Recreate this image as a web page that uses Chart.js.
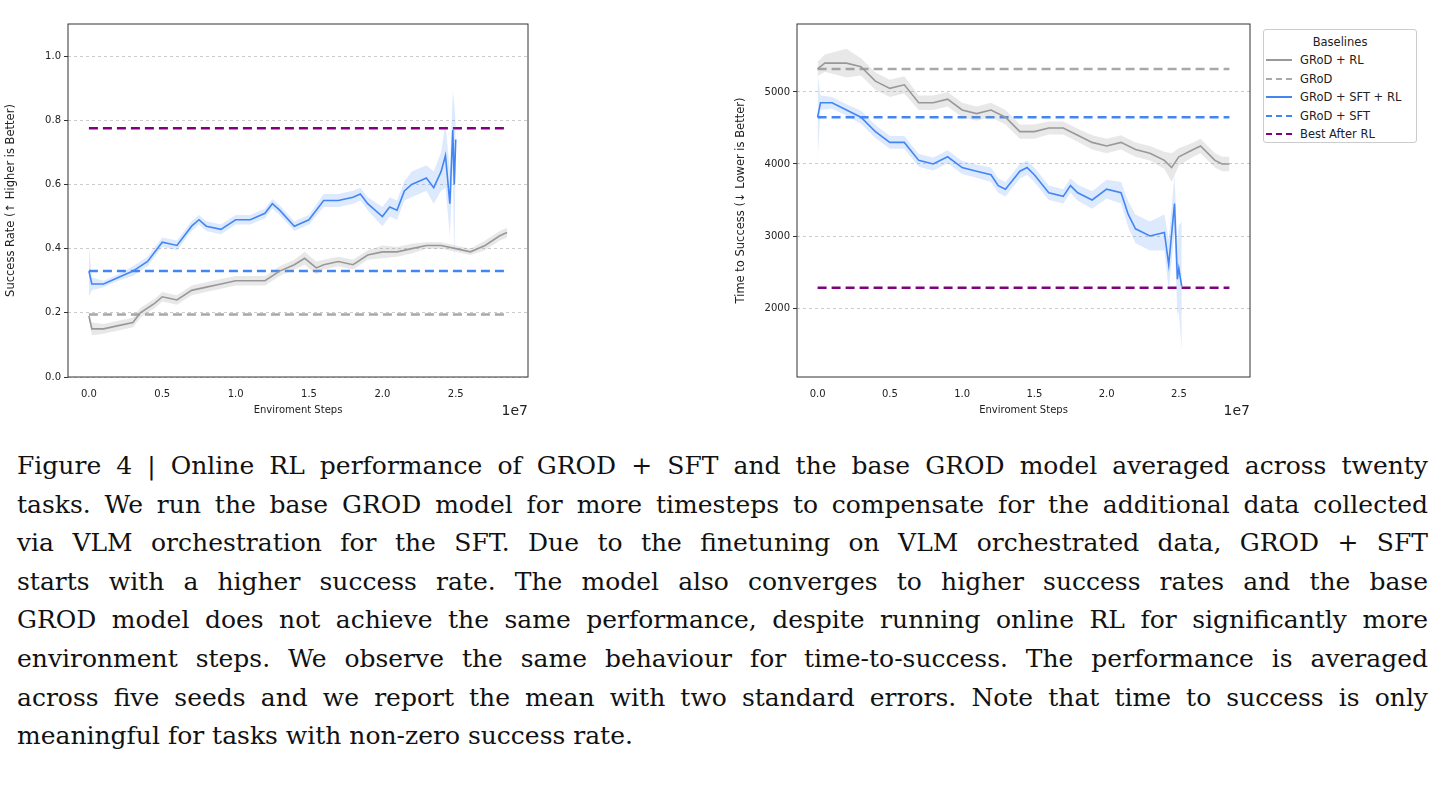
<!DOCTYPE html>
<html><head><meta charset="utf-8">
<script src="https://cdn.jsdelivr.net/npm/chart.js@4"></script>
<style>
body{margin:0;width:1445px;height:786px;background:#fff;position:relative;overflow:hidden}
.cv{position:absolute}
#legend{position:absolute;left:1263px;top:29px;width:154px;height:114px;border:1px solid #ccc;border-radius:3px;font:11.5px "DejaVu Sans";color:#222;box-sizing:border-box}
#legend .t{text-align:center;margin-top:5px;margin-bottom:2px}
#legend .r{height:18.5px;display:flex;align-items:center}
#legend .sw{width:26px;height:0;margin:0 8px 0 2px;border-top:2px solid}
#cap{position:absolute;left:17px;top:447px;width:1411px;font:25px "DejaVu Serif",serif;color:#111}
#cap div{height:38.6px;line-height:38.6px;text-align:justify;text-align-last:justify;white-space:nowrap}
#cap div.last{text-align-last:left}
</style></head><body>
<div class="cv" style="left:0;top:15px;width:540px;height:405px"><canvas id="c1"></canvas></div>
<div class="cv" style="left:730px;top:15px;width:530px;height:405px"><canvas id="c2"></canvas></div>
<div id="legend"><div class="t">Baselines</div>
<div class="r"><span class="sw" style="border-color:#999"></span>GRoD + RL</div>
<div class="r"><span class="sw" style="border-color:#aaa;border-top-style:dashed"></span>GRoD</div>
<div class="r"><span class="sw" style="border-color:#4286f4"></span>GRoD + SFT + RL</div>
<div class="r"><span class="sw" style="border-color:#4286f4;border-top-style:dashed"></span>GRoD + SFT</div>
<div class="r"><span class="sw" style="border-color:#800080;border-top-style:dashed"></span>Best After RL</div>
</div>
<div id="cap">
<div>Figure 4 | Online RL performance of GROD + SFT and the base GROD model averaged across twenty</div>
<div>tasks. We run the base GROD model for more timesteps to compensate for the additional data collected</div>
<div>via VLM orchestration for the SFT. Due to the finetuning on VLM orchestrated data, GROD + SFT</div>
<div>starts with a higher success rate. The model also converges to higher success rates and the base</div>
<div>GROD model does not achieve the same performance, despite running online RL for significantly more</div>
<div>environment steps. We observe the same behaviour for time-to-success. The performance is averaged</div>
<div>across five seeds and we report the mean with two standard errors. Note that time to success is only</div>
<div class="last">meaningful for tasks with non-zero success rate.</div>
</div>
<script>
// ---- data (x in units of 1e7 environment steps) ----
const srSftX = [0,0.02,0.1,0.2,0.3,0.4,0.5,0.6,0.7,0.75,0.8,0.9,1.0,1.1,1.2,1.25,1.3,1.4,1.5,1.6,1.7,1.8,1.85,1.9,2.0,2.05,2.1,2.15,2.2,2.3,2.35,2.4,2.43,2.46,2.48,2.49,2.5];
const srSftY = [0.33,0.29,0.29,0.31,0.33,0.36,0.42,0.41,0.47,0.49,0.47,0.46,0.49,0.49,0.51,0.54,0.52,0.47,0.49,0.55,0.55,0.56,0.57,0.54,0.50,0.53,0.52,0.58,0.60,0.62,0.59,0.64,0.69,0.54,0.77,0.60,0.74];
const srSftE = [0.08,0.02,0.01,0.01,0.015,0.015,0.015,0.015,0.015,0.015,0.015,0.015,0.015,0.015,0.015,0.015,0.015,0.015,0.015,0.02,0.02,0.02,0.02,0.02,0.03,0.03,0.03,0.03,0.04,0.04,0.05,0.06,0.1,0.1,0.12,0.25,0.05];
const srRlX = [0,0.02,0.1,0.2,0.3,0.35,0.45,0.5,0.6,0.7,0.8,0.9,1.0,1.1,1.2,1.3,1.4,1.47,1.55,1.6,1.7,1.8,1.9,2.0,2.1,2.2,2.3,2.4,2.5,2.6,2.7,2.8,2.85];
const srRlY = [0.19,0.15,0.15,0.16,0.17,0.20,0.23,0.25,0.24,0.27,0.28,0.29,0.30,0.30,0.30,0.33,0.35,0.37,0.34,0.35,0.36,0.35,0.38,0.39,0.39,0.40,0.41,0.41,0.40,0.39,0.41,0.44,0.45];
const srRlE = [0.01,0.02,0.015,0.015,0.015,0.015,0.015,0.015,0.015,0.015,0.015,0.015,0.015,0.015,0.015,0.015,0.015,0.02,0.02,0.015,0.015,0.015,0.015,0.02,0.015,0.015,0.01,0.01,0.01,0.01,0.015,0.015,0.015];
const srBase = {grod:0.195, sft:0.33, best:0.775};

const tsSftX = [0,0.02,0.1,0.2,0.3,0.4,0.5,0.6,0.7,0.8,0.9,1.0,1.1,1.2,1.25,1.3,1.4,1.45,1.5,1.6,1.7,1.75,1.8,1.9,2.0,2.1,2.15,2.2,2.3,2.4,2.43,2.47,2.49,2.5,2.52];
const tsSftY = [4650,4850,4850,4750,4650,4450,4300,4300,4050,4000,4100,3950,3900,3850,3700,3650,3900,3950,3850,3600,3550,3700,3600,3500,3650,3600,3300,3100,3000,3050,2600,3450,2400,2550,2300];
const tsSftE = [600,100,80,80,90,90,90,90,90,90,90,90,90,100,100,100,100,100,100,100,100,100,110,120,130,150,180,200,200,250,350,400,500,600,900];
const tsRlX = [0,0.05,0.2,0.3,0.4,0.5,0.6,0.7,0.8,0.9,1.0,1.1,1.2,1.3,1.4,1.5,1.6,1.7,1.8,1.9,2.0,2.1,2.2,2.3,2.4,2.45,2.5,2.6,2.65,2.75,2.8,2.85];
const tsRlY = [5320,5400,5400,5350,5150,5050,5100,4850,4850,4900,4750,4700,4750,4650,4450,4450,4500,4500,4400,4300,4250,4300,4200,4150,4050,3950,4100,4200,4250,4050,4000,4000];
const tsRlE = [100,120,200,120,120,120,120,100,100,100,100,100,100,100,100,100,90,90,90,100,100,100,100,100,120,200,120,100,100,100,100,100];
const tsBase = {grod:5320, sft:4650, best:2280};

const xTicks = [0,0.5,1.0,1.5,2.0,2.5];
const srTicks = [0,0.2,0.4,0.6,0.8,1.0];
const tsTicks = [2000,3000,4000,5000];

const BLUE='#4286f4', GRAY='#999999', GRAYD='#a8a8a8', PURPLE='#800080';
const pts=(xs,ys)=>xs.map((x,i)=>({x,y:ys[i]}));
const hline=(v,c)=>({data:[{x:0,y:v},{x:2.85,y:v}],borderColor:c,borderWidth:2.5,borderDash:[9,5],pointRadius:0,fill:false});
function sets(sx,sy,se,rx,ry,re,b){
  return [
    {data:pts(rx,ry.map((v,i)=>v+re[i])),borderWidth:0,pointRadius:0,fill:false},
    {data:pts(rx,ry.map((v,i)=>v-re[i])),borderWidth:0,pointRadius:0,fill:'-1',backgroundColor:'rgba(150,150,150,0.22)'},
    {data:pts(rx,ry),borderColor:GRAY,borderWidth:1.6,pointRadius:0,fill:false},
    hline(b.grod,GRAYD),
    {data:pts(sx,sy.map((v,i)=>v+se[i])),borderWidth:0,pointRadius:0,fill:false},
    {data:pts(sx,sy.map((v,i)=>v-se[i])),borderWidth:0,pointRadius:0,fill:'-1',backgroundColor:'rgba(66,134,244,0.18)'},
    {data:pts(sx,sy),borderColor:BLUE,borderWidth:1.6,pointRadius:0,fill:false},
    hline(b.sft,BLUE),
    hline(b.best,PURPLE)
  ];
}
const frame={id:'frame',afterDraw(c){const a=c.chartArea,x=c.ctx;x.save();x.strokeStyle='#333';x.lineWidth=1;x.strokeRect(a.left,a.top,a.width,a.height);
 x.fillStyle='#222';x.font='14px "DejaVu Sans"';x.textAlign='right';x.fillText('1e7',a.right,a.bottom+38);x.restore();}};
function make(id,sdata,yMin,yMax,yt,title,yw,padR,fmt){
  new Chart(document.getElementById(id),{type:'line',data:{datasets:sdata},plugins:[frame],
  options:{responsive:true,maintainAspectRatio:false,animation:false,
   layout:{padding:{top:4,right:padR,bottom:0,left:0}},
   plugins:{legend:{display:false},tooltip:{enabled:false}},
   scales:{
    x:{type:'linear',min:-0.1425,max:2.9925,afterBuildTicks:s=>{s.ticks=xTicks.map(v=>({value:v}))},afterFit:s=>{s.height=43},
      grid:{display:false,drawTicks:true},border:{display:false},
      ticks:{color:'#222',font:{family:'DejaVu Sans',size:10},callback:v=>v.toFixed(1)},
      title:{display:true,text:'Enviroment Steps',color:'#222',font:{family:'DejaVu Sans',size:10},padding:{top:0}}},
    y:{min:yMin,max:yMax,afterBuildTicks:s=>{s.ticks=yt.map(v=>({value:v}))},afterFit:s=>{s.width=yw},
      grid:{color:'#cccccc',tickColor:'#333',tickLength:4,borderDash:[3,3]},border:{display:false,dash:[3,3]},
      ticks:{color:'#222',font:{family:'DejaVu Sans',size:10},callback:fmt},
      title:{display:true,text:title,color:'#222',font:{family:'DejaVu Sans',size:11.5},padding:{bottom:6}}}
   }}});
}
make('c1',sets(srSftX,srSftY,srSftE,srRlX,srRlY,srRlE,srBase),0,1.1,srTicks,'Success Rate (↑ Higher is Better)',68,12,v=>v.toFixed(1));
make('c2',sets(tsSftX,tsSftY,tsSftE,tsRlX,tsRlY,tsRlE,tsBase),1042,5944,tsTicks,'Time to Success (↓ Lower is Better)',67,10,v=>String(v));
</script></body></html>
